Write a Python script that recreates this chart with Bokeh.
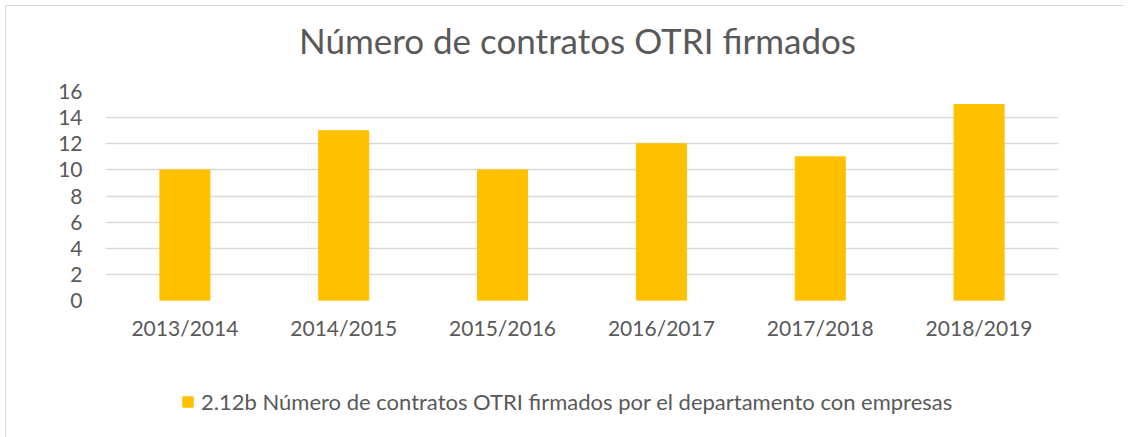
from bokeh.plotting import figure
from bokeh.layouts import column
from bokeh.models import Legend, LegendItem, FixedTicker, Range1d, ColumnDataSource, Label
from bokeh.embed import file_html
from bokeh.resources import INLINE

categories = ["2013/2014", "2014/2015", "2015/2016", "2016/2017", "2017/2018", "2018/2019"]
values = [10, 13, 10, 12, 11, 15]
series_name = "2.12b Número de contratos OTRI firmados por el departamento con empresas"
title_text = "Número de contratos OTRI firmados"
y_ticks = [0, 2, 4, 6, 8, 10, 12, 14, 16]

FONT = "Lato"
TXT = "#595959"
BAR = "#FFC000"


def strip(h, mt=0):
    f = figure(width=1118, height=h, output_backend="svg", toolbar_location=None,
               x_range=Range1d(0, 1), y_range=Range1d(0, 1),
               min_border_left=0, min_border_right=0, min_border_top=mt, min_border_bottom=0)
    f.axis.visible = False
    f.grid.grid_line_color = None
    f.outline_line_color = None
    return f


# title strip
p0 = strip(71)
p0.add_layout(Label(x=472, y=38, x_units="screen", y_units="screen", text=title_text,
                    text_align="center", text_baseline="alphabetic",
                    text_font=FONT, text_font_size="35px", text_color=TXT))

# chart
src = ColumnDataSource(dict(cat=categories, val=values))
p = figure(x_range=categories, width=1118, height=284, output_backend="svg",
           toolbar_location=None, min_border_left=99, min_border_right=66,
           min_border_top=14, min_border_bottom=61)
p.y_range = Range1d(0, 16)
p.vbar(x="cat", top="val", width=0.315, source=src, color=BAR)
p.outline_line_color = None
p.xgrid.grid_line_color = None
p.ygrid.grid_line_color = "#d9d9d9"
p.ygrid.grid_line_width = 1.5
p.yaxis.ticker = FixedTicker(ticks=y_ticks)
for ax in (p.xaxis, p.yaxis):
    ax.axis_line_color = None
    ax.major_tick_line_color = None
    ax.minor_tick_line_color = None
    ax.major_label_text_font = FONT
    ax.major_label_text_font_size = "21px"
    ax.major_label_text_color = TXT
p.yaxis.major_label_standoff = 17
p.xaxis.major_label_standoff = 8

# legend strip
p2 = strip(77)
r2 = p2.vbar(x=[-5], top=[0], width=0.1, color=BAR)
legend = Legend(items=[LegendItem(label=series_name, renderers=[r2])],
                location=(76, 23), orientation="horizontal",
                label_text_font=FONT, label_text_font_size="22px",
                label_text_color=TXT, glyph_width=13, glyph_height=13,
                label_standoff=7, margin=0, padding=0,
                border_line_color=None, background_fill_alpha=0)
p2.add_layout(legend, "center")

layout = column(p0, p, p2, spacing=0, margin=(5, 0, 0, 5))
layout.styles = {"border-left": "1.5px solid #d9d9d9", "border-top": "1.5px solid #d9d9d9"}

open("out.html", "w").write(file_html(layout, INLINE))
